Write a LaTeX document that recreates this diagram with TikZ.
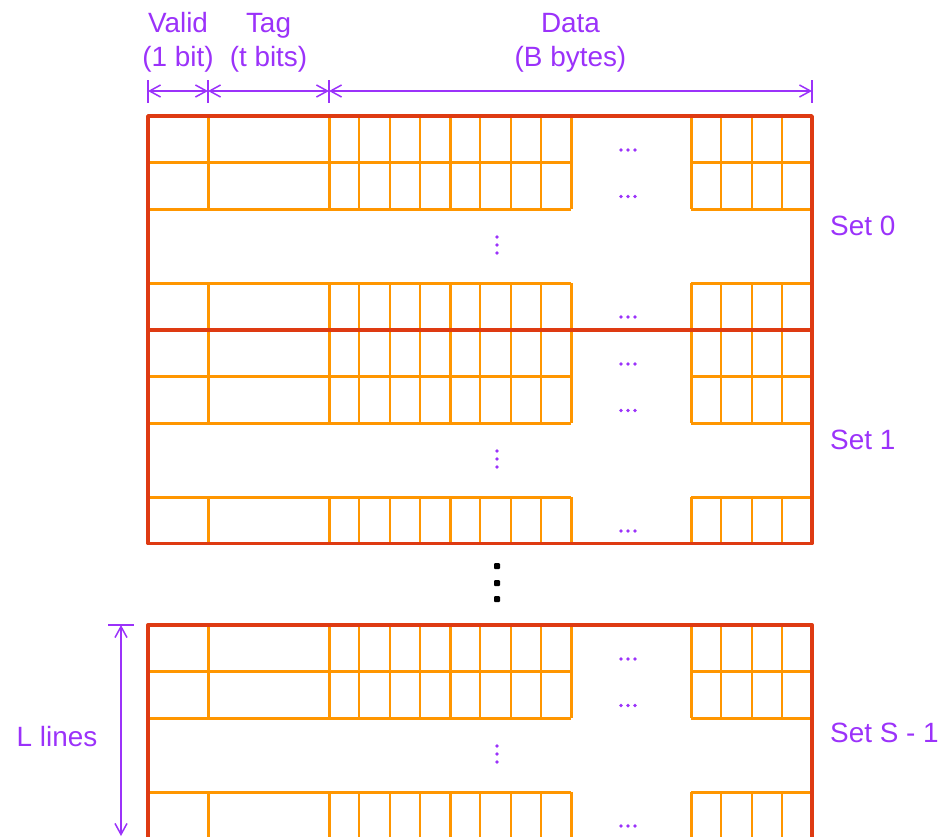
\documentclass[tikz,border=0pt]{standalone}
\usepackage{fontspec}
\setmainfont{Liberation Sans}
\usetikzlibrary{arrows.meta}
\definecolor{purp}{RGB}{155,50,250}
\definecolor{org}{RGB}{255,150,0}
\definecolor{redf}{RGB}{222,58,18}
\begin{document}
\begin{tikzpicture}[x=1bp,y=-1bp,
  lbl/.style={text=purp, font=\fontsize{28}{34}\selectfont, inner sep=0pt},
  dimarrow/.style={draw=purp, line width=1.5bp,
    {Straight Barb[length=11bp,width=12bp]}-{Straight Barb[length=11bp,width=12bp]}},
  tickmark/.style={draw=purp, line width=1.5bp},
  rowline/.style={draw=org, line width=3bp},
  bytediv/.style={draw=org, line width=2bp},
  frameline/.style={draw=redf, line width=3.4bp, line join=round},
  smalldot/.style={fill=purp},
  bigdot/.style={fill=black, rounded corners=1bp}]
\useasboundingbox (0,0) rectangle (946,837);

% header labels
\node[lbl, anchor=base] (valid)  at (178,32) {Valid};
\node[lbl, anchor=base] (validb) at (178,66) {(1 bit)};
\node[lbl, anchor=base] (tag)    at (268.5,32) {Tag};
\node[lbl, anchor=base] (tagb)   at (268.5,66) {(t bits)};
\node[lbl, anchor=base] (data)   at (570.5,32) {Data};
\node[lbl, anchor=base] (datab)  at (570.5,66) {(B bytes)};

% dimension arrows
\coordinate (d0) at (148,91);
\coordinate (d1) at (208,91);
\coordinate (d2) at (329,91);
\coordinate (d3) at (812,91);
\foreach \x in {148,208,329,812} \draw[tickmark] (\x,80) -- (\x,103);
\draw[dimarrow] (d0) -- (d1);
\draw[dimarrow] (d1) -- (d2);
\draw[dimarrow] (d2) -- (d3);

% sets
\foreach \t/\lab/\lb in {116/{Set 0}/235, 330/{Set 1}/449, 625/{Set S - 1}/742} {
  \foreach \r in {0,46.5,167} {
    \pgfmathsetmacro{\y}{\t+\r}
    \pgfmathsetmacro{\yb}{\t+\r+46.5}
    \draw[rowline] (148,\y) -- (571,\y) (148,\yb) -- (571,\yb)
                   (691,\y) -- (812,\y) (691,\yb) -- (812,\yb);
    \foreach \x in {208,329,450,571,691}
      \draw[rowline] (\x,\y) -- (\x,\yb);
    \foreach \x in {359.25,389.5,419.75,480.25,510.5,540.75,721.25,751.5,781.75}
      \draw[bytediv] (\x,\y) -- (\x,\yb);
    \foreach \dx in {-7,0,7}
      \fill[smalldot] (628+\dx,\y+34) circle (1.8);
  }
  \foreach \dy in {121,129,137}
    \fill[smalldot] (497,\t+\dy) circle (1.8);
  \draw[frameline] (148,\t) rectangle (812,\t+213.5);
  \node[lbl, anchor=base west] at (830,\lb) {\lab};
}

% vertical ellipsis between sets
\foreach \yy in {566,583,599}
  \fill[bigdot] (494,\yy-3) rectangle (500,\yy+3);

% L lines
\coordinate (lt) at (121,625);
\coordinate (lb) at (121,836);
\draw[tickmark] (108,625) -- (134,625);
\draw[dimarrow] (lt) -- (lb);
\node[lbl, anchor=base] (llines) at (57,746) {L lines};
\end{tikzpicture}
\end{document}
